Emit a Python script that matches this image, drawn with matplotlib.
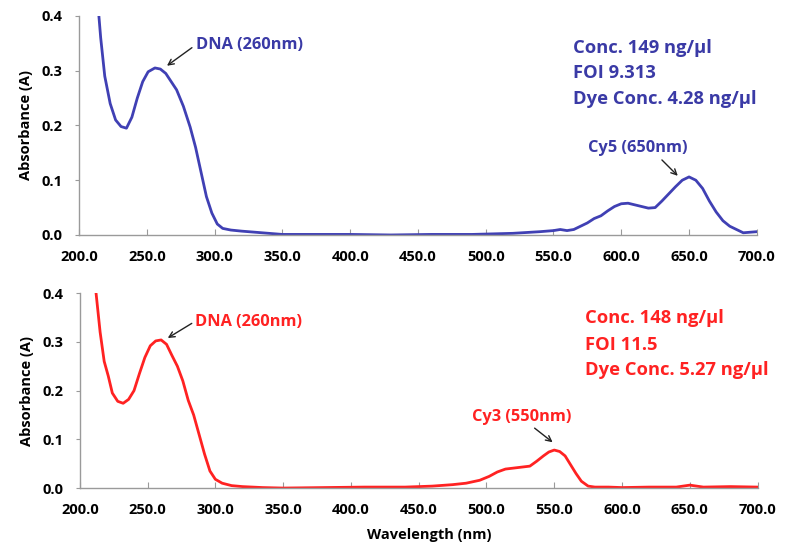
import matplotlib
matplotlib.use("Agg")
import matplotlib.pyplot as plt
import numpy as np

plt.rcParams['font.family'] = ['Open Sans', 'DejaVu Sans']

# ---- data ----
cy5_wl = [214, 216, 219, 223, 227, 231, 235, 239, 243, 247, 251, 256, 260, 264, 268, 272, 277, 282, 286, 290,
          294, 298, 302, 306, 312, 320, 330, 340, 350, 370, 400, 430, 460, 490, 520, 540, 550, 555, 560, 565,
          570, 575, 580, 585, 590, 595, 600, 605, 610, 615, 620, 625, 630, 635, 640, 645, 650, 655, 660, 665,
          670, 675, 680, 685, 690, 695, 700]
cy5_abs = [0.42, 0.36, 0.29, 0.24, 0.21, 0.198, 0.195, 0.215, 0.25, 0.28, 0.298, 0.305, 0.303, 0.295, 0.28, 0.265,
           0.235, 0.197, 0.16, 0.115, 0.07, 0.04, 0.02, 0.012, 0.009, 0.007, 0.005, 0.003, 0.001, 0.001, 0.001,
           0.0, 0.001, 0.001, 0.003, 0.006, 0.008, 0.01, 0.008, 0.01, 0.016, 0.022, 0.03, 0.035, 0.044, 0.052,
           0.057, 0.058, 0.055, 0.052, 0.049, 0.05, 0.062, 0.075, 0.088, 0.1, 0.106, 0.1, 0.085, 0.062, 0.042,
           0.026, 0.016, 0.01, 0.004, 0.005, 0.006]

cy3_wl = [212, 215, 218, 221, 224, 228, 232, 236, 240, 244, 248, 252, 256, 260, 264, 268, 272, 276, 280, 284,
          288, 292, 296, 300, 305, 312, 320, 335, 350, 380, 410, 440, 460, 475, 485, 495, 502, 508, 514, 520,
          526, 532, 537, 542, 546, 550, 554, 558, 562, 566, 570, 575, 580, 590, 600, 620, 640, 650, 660, 680, 700]
cy3_abs = [0.40, 0.32, 0.26, 0.23, 0.195, 0.178, 0.174, 0.182, 0.2, 0.235, 0.268, 0.292, 0.302, 0.304, 0.295,
           0.272, 0.25, 0.22, 0.18, 0.15, 0.11, 0.07, 0.035, 0.018, 0.01, 0.005, 0.003, 0.001, 0.0, 0.001, 0.002,
           0.002, 0.004, 0.007, 0.01, 0.016, 0.024, 0.033, 0.039, 0.041, 0.043, 0.045, 0.055, 0.066, 0.074, 0.078,
           0.075, 0.066, 0.048, 0.03, 0.014, 0.004, 0.002, 0.002, 0.001, 0.002, 0.002, 0.006, 0.002, 0.003, 0.002]

x_ticks = [200, 250, 300, 350, 400, 450, 500, 550, 600, 650, 700]
y_ticks = [0.0, 0.1, 0.2, 0.3, 0.4]

top_info = ["Conc. 149 ng/\u00b5l", "FOI 9.313", "Dye Conc. 4.28 ng/\u00b5l"]
bot_info = ["Conc. 148 ng/\u00b5l", "FOI 11.5", "Dye Conc. 5.27 ng/\u00b5l"]

BLUE = '#4040B4'
BLUE_T = '#3A3AA6'
RED = '#FF2222'

fig = plt.figure(figsize=(7.9, 5.49), dpi=100)
ax1 = fig.add_axes([0.100, 0.572, 0.858, 0.399])
ax2 = fig.add_axes([0.101, 0.111, 0.858, 0.355])


def style(ax):
    ax.set_xlim(200, 700)
    ax.set_ylim(0, 0.4)
    ax.set_xticks(x_ticks)
    ax.set_xticklabels([f"{v:.1f}" for v in x_ticks])
    ax.set_yticks(y_ticks)
    ax.set_yticklabels([f"{v:.1f}" for v in y_ticks])
    for s in ['top', 'right']:
        ax.spines[s].set_visible(False)
    for s in ['left', 'bottom']:
        ax.spines[s].set_color('#9a9a9a')
        ax.spines[s].set_linewidth(1.0)
    ax.tick_params(axis='x', direction='in', length=4, color='#9a9a9a', pad=11)
    ax.tick_params(axis='y', direction='out', length=3, color='#9a9a9a', pad=9)
    for lab in ax.get_xticklabels() + ax.get_yticklabels():
        lab.set_fontweight('bold')
        lab.set_fontsize(10.5)
    ax.set_ylabel("Absorbance (A)", fontsize=10.5, fontweight='bold', labelpad=6)


style(ax1)
style(ax2)

ax1.plot(cy5_wl, cy5_abs, color=BLUE, lw=2.0)
ax2.plot(cy3_wl, cy3_abs, color=RED, lw=2.0)

arrow = dict(arrowstyle='->', color='#222222', lw=1.0, shrinkA=0, shrinkB=0)

# top annotations
ax1.text(286, 0.347, "DNA (260nm)", color=BLUE_T, fontsize=11.8, fontweight='bold', ha='left', va='center')
ax1.annotate('', xy=(264.9, 0.309), xytext=(283.3, 0.342), arrowprops=arrow)
ax1.text(612, 0.159, "Cy5 (650nm)", color=BLUE_T, fontsize=11.8, fontweight='bold', ha='center', va='center')
ax1.annotate('', xy=(641.7, 0.108), xytext=(630, 0.137), arrowprops=arrow)
for txt, yv in zip(top_info, [0.342, 0.296, 0.249]):
    ax1.text(564.3, yv, txt, color=BLUE_T, fontsize=13.2, fontweight='bold', ha='left', va='center')

# bottom annotations
ax2.text(284.8, 0.340, "DNA (260nm)", color=RED, fontsize=11.8, fontweight='bold', ha='left', va='center')
ax2.annotate('', xy=(264.9, 0.308), xytext=(282.6, 0.338), arrowprops=arrow)
ax2.text(526.3, 0.146, "Cy3 (550nm)", color=RED, fontsize=11.8, fontweight='bold', ha='center', va='center')
ax2.annotate('', xy=(548.8, 0.094), xytext=(535.5, 0.123), arrowprops=arrow)
for txt, yv in zip(bot_info, [0.349, 0.294, 0.242]):
    ax2.text(572.4, yv, txt, color=RED, fontsize=13.2, fontweight='bold', ha='left', va='center')

ax2.set_xlabel("Wavelength (nm)", fontsize=10.5, fontweight='bold')
ax2.xaxis.set_label_coords(0.516, -0.243)
ax2.xaxis.label.set_va('center')

fig.savefig("out.png", dpi=100)
